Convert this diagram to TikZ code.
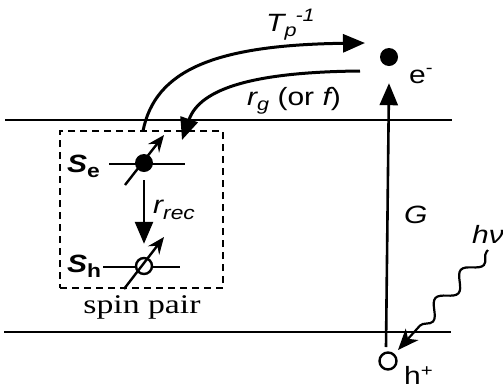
\documentclass[tikz,border=0pt]{standalone}
\usepackage{fontspec}
\setmainfont{Liberation Sans}[FakeStretch=1.2]
\newfontfamily\serifwide{Liberation Serif}[FakeStretch=1.25]
\usetikzlibrary{arrows.meta,decorations.pathmorphing}
\newcommand\fsz[1]{\fontsize{#1}{#1}\selectfont}
\begin{document}
\begin{tikzpicture}[x=1pt,y=-1pt,
  band/.style={line width=2.8pt},
  curve/.style={line width=3pt},
  plain/.style={line width=2.6pt},
  bigtip/.style={-{Triangle[length=22pt,width=18pt]}},
  spintip/.style={line width=2.4pt,-{Stealth[length=17pt,width=14pt,inset=6pt]}},
  lbl/.style={anchor=base west,inner sep=0pt,font=\fsz{25}},
  dot/.style={circle,fill=black,inner sep=0pt},
  hole/.style={circle,draw=black,fill=white,line width=2.4pt,inner sep=0pt}]
\useasboundingbox (0,0) rectangle (503,389);

% band edges
\draw[band] (5,120) -- (452,120);
\draw[band] (4,332) -- (451,332);

% spin pair box
\node[draw,line width=2.4pt,dash pattern=on 7pt off 5pt,inner sep=0pt,
      minimum width=163pt,minimum height=157pt] (box) at (141.5,209.5) {};
\node[anchor=base,inner sep=0pt] (sp) at (142,313) {\serifwide\fsz{27}spin pair};

% S_e level
\draw[plain] (109,164) -- (185,164);
\node[dot,minimum size=18pt] (se) at (144,163) {};
\coordinate (sea) at (125,185);
\coordinate (seb) at (164,135);
\draw[spintip] (sea) -- (seb);
\node[lbl] (selab) at (67,172) {\bfseries\itshape S\upshape\raisebox{-5pt}{\fsz{19}e}};

% S_h level
\draw[plain] (103,267) -- (180,267);
\node[hole,minimum size=16pt] (sh) at (144,266) {};
\coordinate (sha) at (124,289);
\coordinate (shb) at (164,237);
\draw[spintip] (sha) -- (shb);
\node[lbl] (shlab) at (67,272) {\bfseries\itshape S\upshape\raisebox{-5pt}{\fsz{19}h}};

% recombination
\draw[plain,bigtip,shorten <=8pt,shorten >=13pt] (se) -- (sh);
\node[lbl] (rrec) at (153,213) {\itshape r\raisebox{-6pt}{\fsz{19}rec}};

% free carriers
\node[dot,minimum size=18pt] (el) at (389,57) {};
\node[lbl] (ellab) at (409,83) {e\raisebox{10pt}{\fsz{17}-}};
\node[hole,minimum size=17pt] (ho) at (388,361) {};
\node[lbl] (holab) at (404,384) {h\raisebox{8pt}{\fsz{17}+}};

% generation
\coordinate (gbot) at (386,347);
\draw[plain,bigtip] (gbot) -- ([yshift=-17pt]el.south);
\node[lbl] (glab) at (404,223) {\itshape G};

% transitions
\coordinate (ts) at (143,131);
\coordinate (te) at (365,43);
\draw[curve,bigtip] (ts) .. controls (155,70) and (215,45) .. (te);
\node[lbl] (tlab) at (266,31) {\itshape T\raisebox{-5pt}{\fsz{18}p}\kern-1pt\raisebox{10pt}{\fsz{18}-1}};

\coordinate (rs) at (360,71);
\coordinate (re) at (182,140);
\draw[curve,bigtip] (rs) .. controls (255,72) and (200,88) .. (re);
\node[lbl] (rglab) at (247,105) {\itshape r\raisebox{-5pt}{\fsz{18}g}\upshape\ (or \itshape f\upshape)};

% photon
\coordinate (ps) at (488,250);
\coordinate (pe) at (398,350);
\draw[line width=2.2pt,-{Stealth[length=21pt,width=17pt,inset=6pt]},
      decorate,decoration={snake,segment length=38pt,amplitude=7pt,pre length=2pt,post length=14pt}]
      (ps) -- (pe);
\node[lbl] (hnu) at (472,243) {\itshape hν};
\end{tikzpicture}
\end{document}
